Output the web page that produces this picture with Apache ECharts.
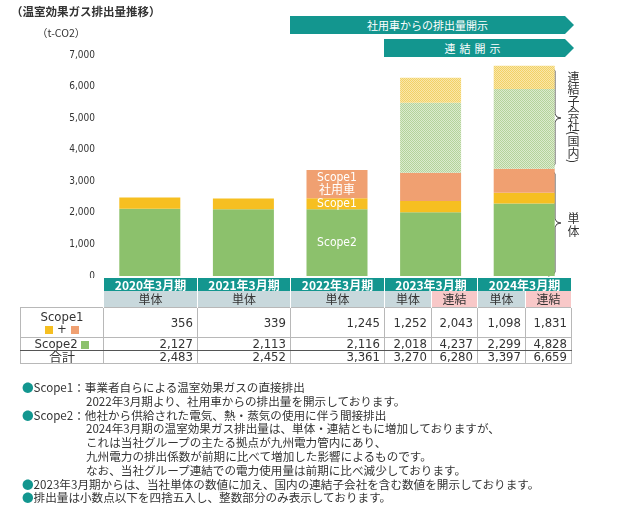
<!DOCTYPE html>
<html>
<head>
<meta charset="utf-8">
<script src="https://cdn.jsdelivr.net/npm/echarts@6/dist/echarts.min.js"></script>
<style>
body { margin: 0; background: #fff; color: #333; font-family: "Noto Sans CJK JP", sans-serif; }
#chart { position: absolute; left: 0; top: 0; width: 620px; height: 516px; }
.abs { position: absolute; white-space: nowrap; }
#title { left: 11px; top: 3px; font-size: 11.5px; font-weight: bold; line-height: 16px; }
#unit { left: 37px; top: 26px; font-size: 10.5px; line-height: 14px; }
.arrow { position: absolute; height: 18px; line-height: 18px; background: #13968f; color: #fff; font-size: 11px;
  clip-path: polygon(0 0, calc(100% - 9px) 0, 100% 50%, calc(100% - 9px) 100%, 0 100%); }
.arrow span { position: absolute; left: 0; right: 9px; text-align: center; }
#arrow1 { left: 290px; top: 16px; width: 284px; }
#arrow2 { left: 384px; top: 39px; width: 190px; }
#arrow2 span { letter-spacing: 4px; }
.vert { position: absolute; writing-mode: vertical-rl; font-size: 12px; line-height: 14px; white-space: nowrap; }
#vConsol { left: 566px; top: 71px; }
#vSingle { left: 566px; top: 212px; letter-spacing: 1px; }
#table { position: absolute; left: 20px; top: 278px; border-collapse: collapse; table-layout: fixed; }
#table td { padding: 0; overflow: hidden; white-space: nowrap; }
#table td.blank { border: none; background: #fff; }
#table td.yh { background: #13968f; color: #fff; font-weight: bold; font-size: 12px; height: 13px; line-height: 13px;
  text-align: center; border-left: 1px solid #fff; border-right: 1px solid #fff; }
#table td.sub { background: #c8d8dc; font-size: 12px; height: 16px; line-height: 16px; text-align: center;
  border-left: 1px solid #fff; border-right: 1px solid #fff; }
#table td.sub.consol { background: #f8c8c8; }
#table td.num { text-align: right; padding-right: 4px; font-family: "Liberation Sans Narrow", "DejaVu Sans Condensed", sans-serif;
  font-size: 13px; line-height: 12px; border: 1px solid #b8b8b8; }
#table td.lab { text-align: center; font-family: "Liberation Sans Narrow", "DejaVu Sans Condensed", "Noto Sans CJK JP", sans-serif;
  font-size: 13px; line-height: 12px; border: 1px solid #b8b8b8; }
#table tr.r1 td { height: 29px; }
#table tr.r2 td { height: 12px; border-bottom: 1px solid #555; }
#table tr.r3 td { height: 12px; }
.sq { display: inline-block; width: 8px; height: 8px; vertical-align: -1px; }
#notes { left: 22px; top: 381px; font-size: 11.6px; line-height: 13.8px; color: #333; }
#notes div { height: 13.8px; }
#notes .b { color: #13968f; }
#notes .ind { padding-left: 64px; }
</style>
</head>
<body>
<div id="chart"></div>
<div class="abs" id="title">（温室効果ガス排出量推移）</div>
<div class="abs" id="unit">（t-CO2）</div>
<div class="arrow" id="arrow1"><span>社用車からの排出量開示</span></div>
<div class="arrow" id="arrow2"><span>連結開示</span></div>
<div class="vert" id="vConsol">連結子会社(国内)</div>
<div class="vert" id="vSingle">単体</div>
<table id="table"></table>
<div class="abs" id="notes">
  <div><span class="b">●</span>Scope1：事業者自らによる温室効果ガスの直接排出</div>
  <div class="ind">2022年3月期より、社用車からの排出量を開示しております。</div>
  <div><span class="b">●</span>Scope2：他社から供給された電気、熱・蒸気の使用に伴う間接排出</div>
  <div class="ind">2024年3月期の温室効果ガス排出量は、単体・連結ともに増加しておりますが、</div>
  <div class="ind">これは当社グループの主たる拠点が九州電力管内にあり、</div>
  <div class="ind">九州電力の排出係数が前期に比べて増加した影響によるものです。</div>
  <div class="ind">なお、当社グループ連結での電力使用量は前期に比べ減少しております。</div>
  <div><span class="b">●</span>2023年3月期からは、当社単体の数値に加え、国内の連結子会社を含む数値を開示しております。</div>
  <div><span class="b">●</span>排出量は小数点以下を四捨五入し、整数部分のみ表示しております。</div>
</div>
<script>
// data (t-CO2)
var years = ['2020年3月期', '2021年3月期', '2022年3月期', '2023年3月期', '2024年3月期'];
var scope2Single = [2127, 2113, 2116, 2018, 2299];
var scope1Own = [356, 339, 350, 355, 340];     // split of single Scope1
var scope1Car = [0, 0, 895, 897, 758];         // company cars, from 2022
var scope1Consol = [null, null, null, 2043, 1831];
var scope2Consol = [null, null, null, 4237, 4828];
var totalSingle = [2483, 2452, 3361, 3270, 3397];
var totalConsol = [null, null, null, 6280, 6659];
var yTicks = [0, 1000, 2000, 3000, 4000, 5000, 6000, 7000];

var GREEN = '#8cc16c', YELLOW = '#f6bf21', ORANGE = '#f0a071', TEAL = '#13968f';
var NARROW = '"Liberation Sans Narrow", "DejaVu Sans Condensed", sans-serif';

function dots(c1, c2) {
  var cv = document.createElement('canvas');
  cv.width = 2; cv.height = 2;
  var ctx = cv.getContext('2d');
  ctx.fillStyle = c2; ctx.fillRect(0, 0, 2, 2);
  ctx.fillStyle = c1; ctx.fillRect(0, 0, 1, 1); ctx.fillRect(1, 1, 1, 1);
  return { image: cv, repeat: 'repeat' };
}

function fmt(v) { return v.toLocaleString('en-US'); }

// subsidiaries only = consolidated - single
var subScope2 = years.map(function (y, i) {
  return scope2Consol[i] == null ? null : scope2Consol[i] - scope2Single[i];
});
var subScope1 = years.map(function (y, i) {
  return scope1Consol[i] == null ? null : scope1Consol[i] - scope1Own[i] - scope1Car[i];
});

// labels only on the 2022 bar
function withLabel(arr, text) {
  return arr.map(function (v, i) {
    if (i !== 2) return v;
    return { value: v, label: { show: true, formatter: text } };
  });
}

var labelStyle = { position: 'inside', color: '#fff', fontSize: 12, lineHeight: 13,
  fontFamily: '"Liberation Sans Narrow", "DejaVu Sans Condensed", "Noto Sans CJK JP", sans-serif' };

var myChart = echarts.init(document.getElementById('chart'), null, { renderer: 'canvas' });

// braces beside the 2024 bar
var braceTop = [[548, 67], [553, 68], [555, 71], [555, 114], [557, 117], [561, 118], [557, 119], [555, 122], [555, 164], [553, 167], [548, 168]];
var braceBottom = [[548, 170], [553, 171], [555, 174], [555, 219], [557, 222], [561, 223], [557, 224], [555, 227], [555, 272], [553, 275], [548, 276]];

var option = {
  animation: false,
  grid: { left: 103, right: 49, top: 55, bottom: 240 },
  xAxis: {
    type: 'category',
    data: years,
    axisLine: { show: false },
    axisTick: { show: false },
    axisLabel: { show: false }
  },
  yAxis: {
    type: 'value',
    min: 0,
    max: yTicks[yTicks.length - 1],
    interval: 1000,
    splitLine: { show: false },
    axisLine: { show: false },
    axisTick: { show: false },
    axisLabel: { color: '#333', fontSize: 10, fontFamily: NARROW, margin: 8, formatter: fmt }
  },
  series: [
    { name: 'Scope2', type: 'bar', stack: 'a', barWidth: 61, itemStyle: { color: GREEN },
      label: labelStyle, data: withLabel(scope2Single, 'Scope2') },
    { name: 'Scope1', type: 'bar', stack: 'a', itemStyle: { color: YELLOW },
      label: labelStyle, data: withLabel(scope1Own, 'Scope1') },
    { name: 'Scope1 社用車', type: 'bar', stack: 'a', itemStyle: { color: ORANGE },
      label: labelStyle, data: withLabel(scope1Car, 'Scope1\n社用車') },
    { name: '連結子会社 Scope2', type: 'bar', stack: 'a', itemStyle: { color: dots('#b4d39a', '#dcebcf') },
      data: subScope2 },
    { name: '連結子会社 Scope1', type: 'bar', stack: 'a', itemStyle: { color: dots('#f2d166', '#f9e7aa') },
      data: subScope1 }
  ],
  graphic: [
    { type: 'polyline', shape: { points: braceTop }, style: { fill: null, stroke: '#444', lineWidth: 1 } },
    { type: 'polyline', shape: { points: braceBottom }, style: { fill: null, stroke: '#444', lineWidth: 1 } }
  ]
};

if (option && typeof option === 'object') {
  myChart.setOption(option);
}

// table built from the same arrays
var cols = [];
years.forEach(function (y, i) {
  cols.push({ type: '単体', s1: scope1Own[i] + scope1Car[i], s2: scope2Single[i], t: totalSingle[i] });
  if (scope2Consol[i] != null) {
    cols.push({ type: '連結', s1: scope1Consol[i], s2: scope2Consol[i], t: totalConsol[i] });
  }
});
var colWidths = [83, 94, 93, 94, 47, 46, 48, 46];

var html = '<colgroup>' + colWidths.map(function (w) { return '<col style="width:' + w + 'px">'; }).join('') + '</colgroup>';
html += '<tr><td class="blank"></td>' + years.map(function (y, i) {
  return '<td class="yh" colspan="' + (scope2Consol[i] != null ? 2 : 1) + '">' + y + '</td>';
}).join('') + '</tr>';
html += '<tr><td class="blank"></td>' + cols.map(function (c) {
  return '<td class="sub' + (c.type === '連結' ? ' consol' : '') + '">' + c.type + '</td>';
}).join('') + '</tr>';
html += '<tr class="r1"><td class="lab">Scope1<br><span class="sq" style="background:' + YELLOW + '"></span> + <span class="sq" style="background:' + ORANGE + '"></span></td>' +
  cols.map(function (c) { return '<td class="num">' + fmt(c.s1) + '</td>'; }).join('') + '</tr>';
html += '<tr class="r2"><td class="lab">Scope2 <span class="sq" style="background:' + GREEN + '"></span></td>' +
  cols.map(function (c) { return '<td class="num">' + fmt(c.s2) + '</td>'; }).join('') + '</tr>';
html += '<tr class="r3"><td class="lab">合計</td>' +
  cols.map(function (c) { return '<td class="num">' + fmt(c.t) + '</td>'; }).join('') + '</tr>';
var table = document.getElementById('table');
table.style.width = colWidths.reduce(function (a, b) { return a + b; }, 0) + 'px';
table.innerHTML = html;

window.addEventListener('resize', myChart.resize);
</script>
</body>
</html>
